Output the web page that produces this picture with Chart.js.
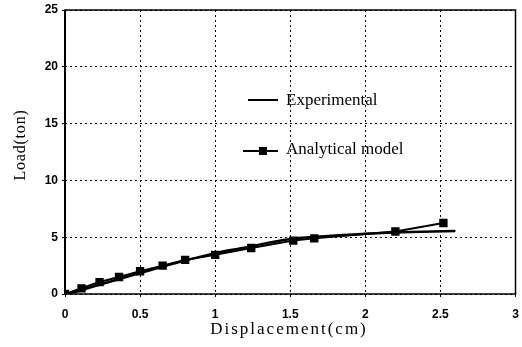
<!DOCTYPE html>
<html>
<head>
<meta charset="utf-8">
<script src="https://cdn.jsdelivr.net/npm/chart.js@4.4.0/dist/chart.umd.min.js"></script>
<style>
  html, body { margin: 0; padding: 0; background: #fff; }
  #wrap { width: 522px; height: 347px; position: relative; }
</style>
</head>
<body>
<div id="wrap"><canvas id="mycanvas"></canvas></div>
<script>
// experimental curve (displacement cm, load ton)
var expX = [0, 0.2, 0.5, 0.8, 1.0, 1.2, 1.35, 1.5, 1.75, 2.0, 2.3, 2.6];
var expY = [-0.1, 0.7, 1.85, 2.95, 3.6, 4.1, 4.5, 4.85, 5.1, 5.3, 5.45, 5.55];

// analytical model points
var anaX = [0, 0.11, 0.23, 0.36, 0.5, 0.65, 0.8, 1.0, 1.24, 1.52, 1.66, 2.2, 2.52];
var anaY = [0, 0.5, 1.05, 1.5, 2.0, 2.5, 3.0, 3.45, 4.05, 4.7, 4.9, 5.5, 6.25];

var xTicks = [0, 0.5, 1, 1.5, 2, 2.5, 3];
var yTicks = [0, 5, 10, 15, 20, 25];

function pts(xs, ys) {
	var out = [];
	for (var i in xs) {
		out.push({x: xs[i], y: ys[i]});
	}
	return out;
}

// frame, axis titles and legend drawn by hand
var framePlugin = {
	id: 'frame',
	afterDraw: function(chart) {
		var c = chart.ctx, a = chart.chartArea;
		c.save();
		c.strokeStyle = '#000';
		c.lineWidth = 1.5;
		c.strokeRect(a.left, a.top, a.right - a.left, a.bottom - a.top);
		c.lineWidth = 2;
		c.beginPath(); c.moveTo(a.left, a.top); c.lineTo(a.left, a.bottom); c.stroke();

		c.fillStyle = '#000';
		// axis titles
		c.textAlign = 'center';
		c.textBaseline = 'alphabetic';
		c.font = '17px "Liberation Serif", serif';
		c.letterSpacing = '2px';
		c.fillText('Displacement(cm)', 289, 334);
		c.save();
		c.translate(25, 145);
		c.rotate(-Math.PI / 2);
		c.font = '16px "Liberation Serif", serif';
		c.letterSpacing = '0.8px';
		c.fillText('Load(ton)', 0, 0);
		c.restore();

		// legend
		c.letterSpacing = '0px';
		c.textAlign = 'left';
		c.font = '17px "Liberation Serif", serif';
		c.textBaseline = 'middle';
		c.lineWidth = 2;
		c.beginPath(); c.moveTo(248, 100); c.lineTo(278, 100); c.stroke();
		c.fillText('Experimental', 286, 101);
		c.beginPath(); c.moveTo(243, 151); c.lineTo(278, 151); c.stroke();
		c.fillRect(259, 147, 8, 8);
		c.fillText('Analytical model', 286, 150);
		c.restore();
	}
};

var tickFont = {family: '"Liberation Sans", sans-serif', size: 12, weight: 'bold'};

var ctx = document.getElementById('mycanvas');

var chart = new Chart(ctx, {
	type: 'scatter',
	data: {
		datasets: [
			{
				label: 'Experimental',
				data: pts(expX, expY),
				showLine: true,
				borderColor: '#000',
				borderWidth: 2.5,
				pointRadius: 0,
				tension: 0.3
			},
			{
				label: 'Analytical model',
				data: pts(anaX, anaY),
				showLine: true,
				borderColor: '#000',
				backgroundColor: '#000',
				borderWidth: 2,
				pointStyle: 'rect',
				pointRadius: 4.5,
				tension: 0
			}
		]
	},
	options: {
		responsive: true,
		maintainAspectRatio: false,
		animation: false,
		layout: {padding: {top: 10, right: 4, left: 0, bottom: 0}},
		plugins: {
			legend: {display: false},
			tooltip: {enabled: false}
		},
		scales: {
			x: {
				type: 'linear',
				min: 0, max: 3,
				afterBuildTicks: function(ax) { ax.ticks = xTicks.map(function(v){ return {value: v}; }); },
				afterFit: function(ax) { ax.height = 53; ax.paddingRight = 0; ax.paddingLeft = 0; },
				ticks: {
					color: '#000', font: tickFont, padding: 10, maxRotation: 0,
					callback: function(v) { return v; }
				},
				grid: {color: '#000', lineWidth: 1, tickLength: 3, tickColor: '#000'},
				border: {display: false, dash: [2, 3]}
			},
			y: {
				type: 'linear',
				min: 0, max: 25,
				afterBuildTicks: function(ax) { ax.ticks = yTicks.map(function(v){ return {value: v}; }); },
				afterFit: function(ax) { ax.width = 65; ax.paddingTop = 0; ax.paddingBottom = 0; },
				ticks: {color: '#000', font: tickFont, padding: 4},
				grid: {color: '#000', lineWidth: 1, tickLength: 3, tickColor: '#000'},
				border: {display: false, dash: [2, 3]}
			}
		}
	},
	plugins: [framePlugin]
});
</script>
</body>
</html>
